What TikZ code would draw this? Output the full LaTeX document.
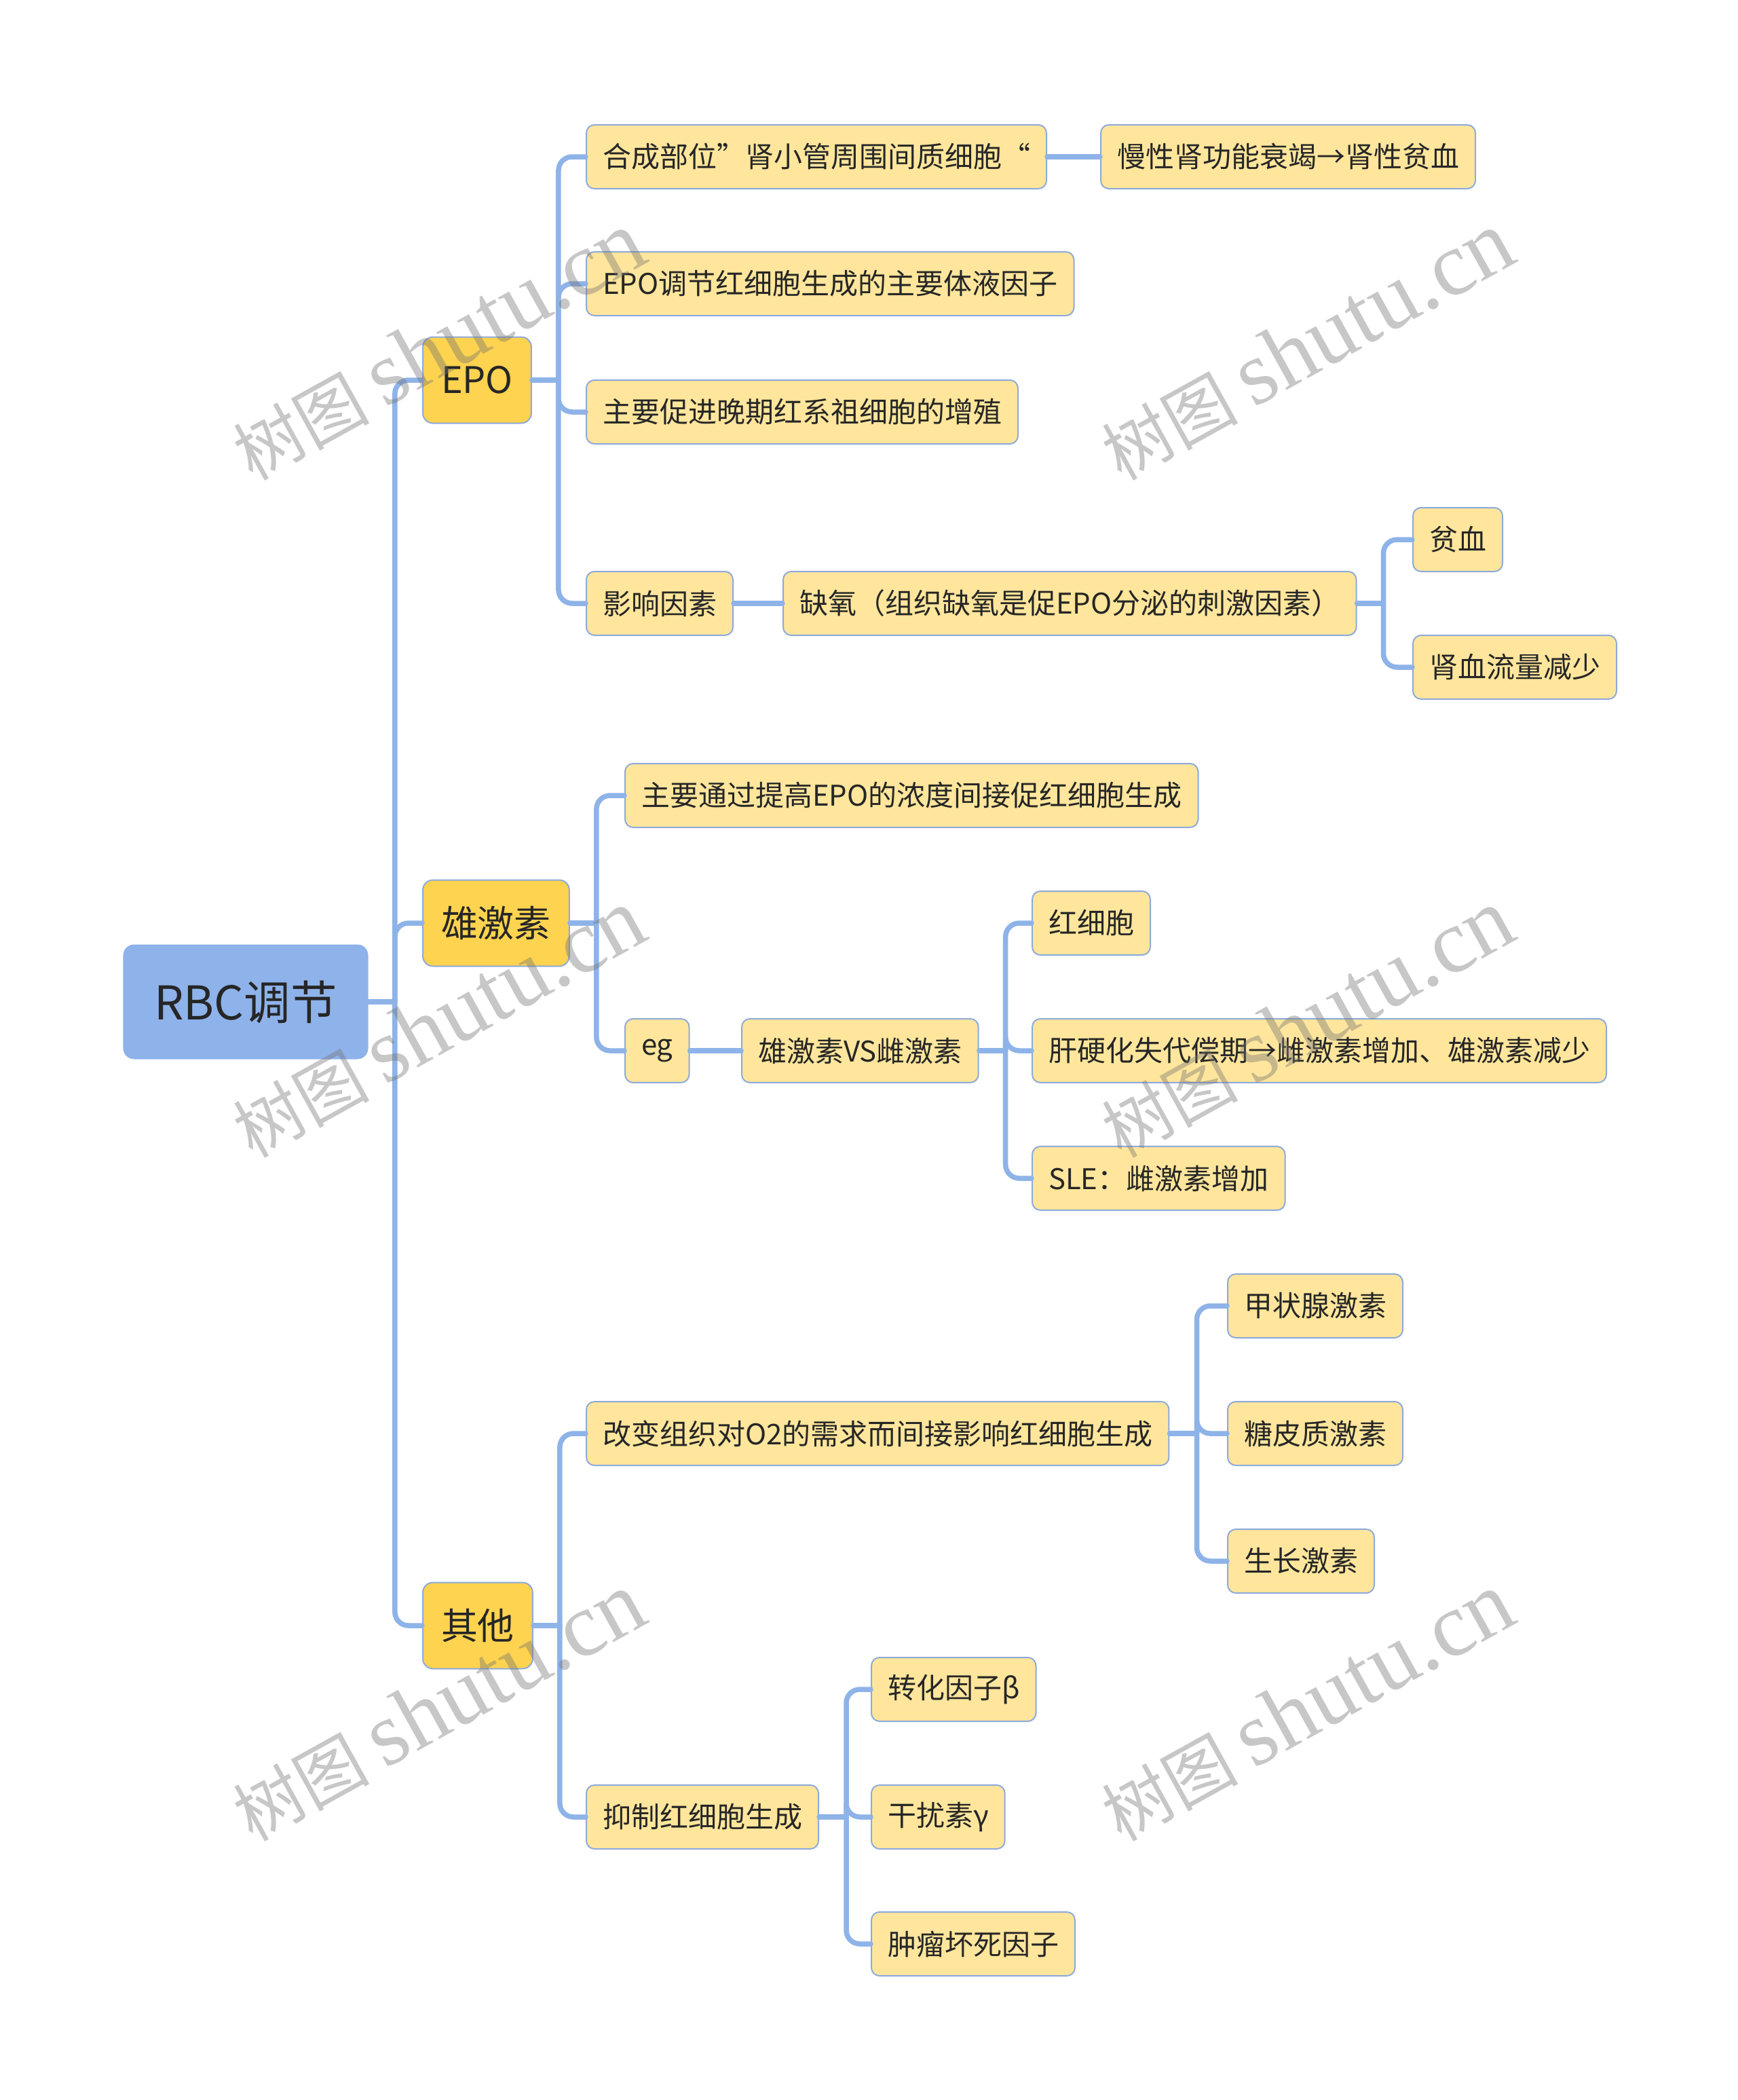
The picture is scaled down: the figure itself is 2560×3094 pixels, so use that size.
\documentclass[tikz,border=0pt]{standalone}
\usepackage{fontspec}
\newfontfamily\cjk{Noto Sans CJK SC}
\newfontfamily\wmserif{Liberation Serif}
\definecolor{ink}{HTML}{262626}
\definecolor{wire}{HTML}{8EB3E8}
\definecolor{rootblue}{HTML}{8EB2EA}
\definecolor{gold}{HTML}{FDD34F}
\definecolor{cream}{HTML}{FFE69C}
\definecolor{edge}{HTML}{8EAADB}

\begin{document}
\begin{tikzpicture}[x=0.2mm,y=-0.2mm,font=\cjk,text=ink,line cap=round,line join=round,
  rootbox/.style={fill=rootblue,rounded corners=3.2mm,minimum width=72.2mm,
    minimum height=33.8mm,font=\cjk\fontsize{39pt}{44pt}\selectfont},
  topic/.style={draw=edge,line width=0.4mm,fill=gold,rounded corners=3mm,anchor=west,
    inner xsep=5.4mm,inner ysep=0pt,minimum height=25.4mm,
    font=\cjk\fontsize{30.7pt}{36pt}\selectfont},
  leaf/.style={draw=edge,line width=0.4mm,fill=cream,rounded corners=2.4mm,anchor=west,
    inner xsep=4.8mm,inner ysep=0pt,minimum height=18.8mm,
    font=\cjk\fontsize{23.9pt}{28pt}\selectfont},
  branch/.style={draw=wire,line width=1.5mm,rounded corners=4mm},
  stamp/.style={text=black!55,opacity=.4,rotate=29,inner sep=0pt,
    font=\cjk\fontsize{57pt}{60pt}\selectfont}]
  \useasboundingbox (0,0) rectangle (2560,3094);

  % Root and main topics.
  \node[rootbox] (root) at (362,1476) {RBC调节};
  \node[topic] (epo) at (622,560) {EPO};
  \node[topic] (andro) at (622,1360) {雄激素};
  \node[topic] (other) at (622,2395) {其他};

  % EPO branch.
  \node[leaf] (site) at (863,231) {合成部位”肾小管周围间质细胞“};
  \node[leaf] (ckd) at (1621,231) {慢性肾功能衰竭→肾性贫血};
  \node[leaf] (main) at (863,418) {EPO调节红细胞生成的主要体液因子};
  \node[leaf] (late) at (863,607) {主要促进晚期红系祖细胞的增殖};
  \node[leaf] (factor) at (863,889) {影响因素};
  \node[leaf] (hypoxia) at (1153,889) {缺氧（组织缺氧是促EPO分泌的刺激因素）};
  \node[leaf] (anemia) at (2081,795) {贫血};
  \node[leaf] (flow) at (2081,983) {肾血流量减少};

  % Androgen branch.
  \node[leaf] (conc) at (920,1172) {主要通过提高EPO的浓度间接促红细胞生成};
  \node[leaf] (eg) at (920,1548) {eg};
  \node[leaf] (vs) at (1092,1548) {雄激素VS雌激素};
  \node[leaf] (rbc) at (1520,1360) {红细胞};
  \node[leaf] (cirr) at (1520,1548) {肝硬化失代偿期→雌激素增加、雄激素减少};
  \node[leaf] (sle) at (1520,1736) {SLE：雌激素增加};

  % Other factors.
  \node[leaf] (demand) at (863,2112) {改变组织对O2的需求而间接影响红细胞生成};
  \node[leaf] (thyroid) at (1808,1924) {甲状腺激素};
  \node[leaf] (gluco) at (1808,2112) {糖皮质激素};
  \node[leaf] (growth) at (1808,2300) {生长激素};
  \node[leaf] (inhibit) at (863,2677) {抑制红细胞生成};
  \node[leaf] (tgf) at (1283,2489) {转化因子β};
  \node[leaf] (ifn) at (1283,2677) {干扰素γ};
  \node[leaf] (tnf) at (1283,2864) {肿瘤坏死因子};

  % Connectors.
  \draw[branch] (root.east) -- ++(39,0) coordinate (busroot);
  \foreach \c in {epo,andro,other}
    \draw[branch] (busroot) |- (\c.west);
  \draw[branch] (epo.east) -- ++(39,0) coordinate (busepo);
  \foreach \c in {site,main,late,factor}
    \draw[branch] (busepo) |- (\c.west);
  \draw[branch] (site.east) -- (ckd.west);
  \draw[branch] (factor.east) -- (hypoxia.west);
  \draw[branch] (hypoxia.east) -- ++(39,0) coordinate (bushyp);
  \foreach \c in {anemia,flow}
    \draw[branch] (bushyp) |- (\c.west);
  \draw[branch] (andro.east) -- ++(39,0) coordinate (busandro);
  \foreach \c in {conc,eg}
    \draw[branch] (busandro) |- (\c.west);
  \draw[branch] (eg.east) -- (vs.west);
  \draw[branch] (vs.east) -- ++(39,0) coordinate (busvs);
  \foreach \c in {rbc,cirr,sle}
    \draw[branch] (busvs) |- (\c.west);
  \draw[branch] (other.east) -- ++(39,0) coordinate (busother);
  \foreach \c in {demand,inhibit}
    \draw[branch] (busother) |- (\c.west);
  \draw[branch] (demand.east) -- ++(40,0) coordinate (busdem);
  \foreach \c in {thyroid,gluco,growth}
    \draw[branch] (busdem) |- (\c.west);
  \draw[branch] (inhibit.east) -- ++(40,0) coordinate (businh);
  \foreach \c in {tgf,ifn,tnf}
    \draw[branch] (businh) |- (\c.west);

  % Watermarks.
  \foreach \wx/\wy [count=\i] in {646/510,1926/510,646/1508,1926/1508,646/2515,1926/2515}
    \node[stamp] (mark\i) at (\wx,\wy) {树图 {\wmserif\fontsize{76pt}{80pt}\selectfont shutu.cn}};
\end{tikzpicture}
\end{document}
